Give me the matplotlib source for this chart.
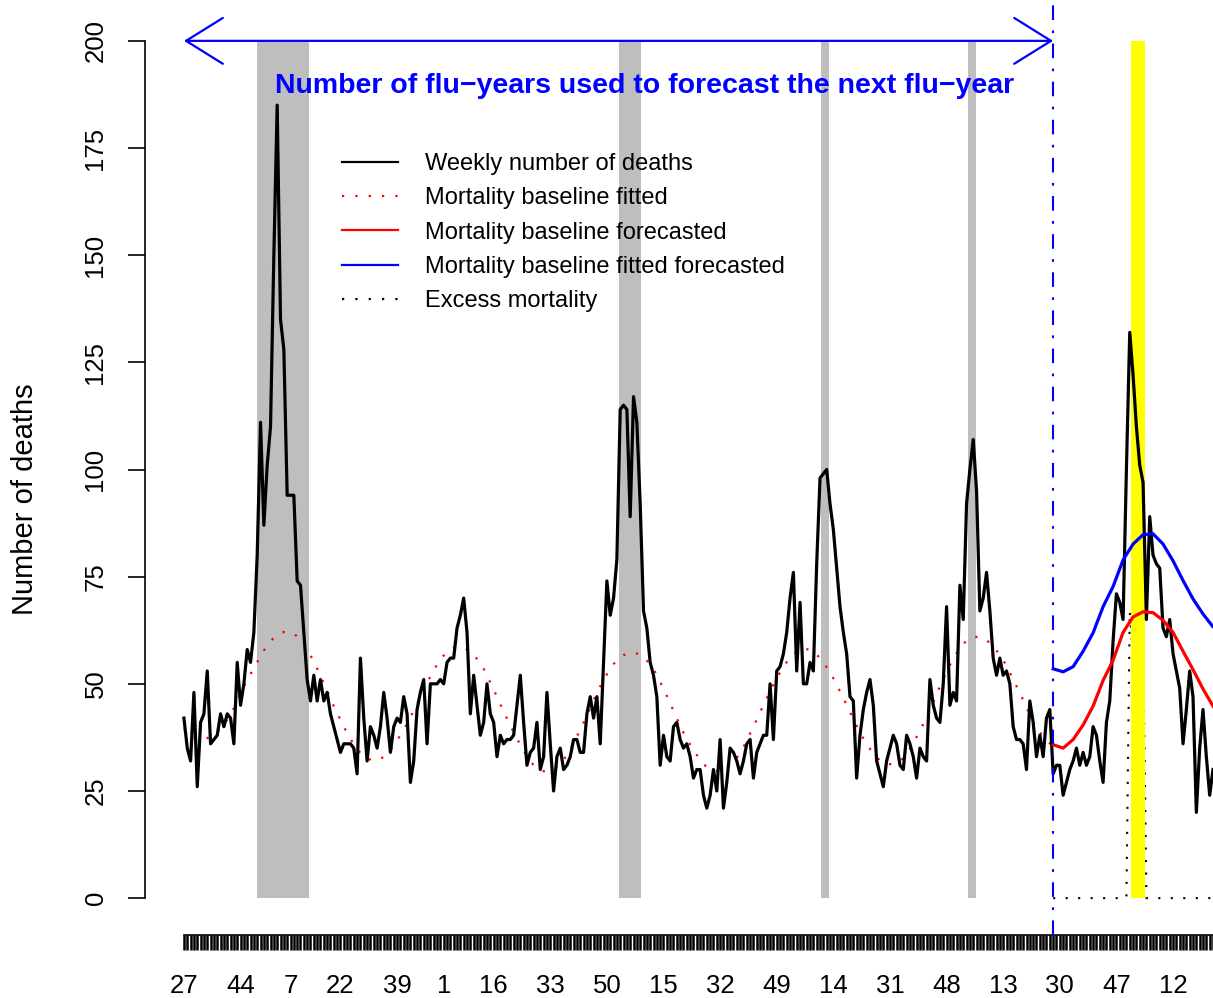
import matplotlib
matplotlib.use('Agg')
import matplotlib.pyplot as plt
from matplotlib.lines import Line2D
from matplotlib.patches import FancyArrowPatch, ArrowStyle

plt.rcParams['font.family'] = ['Liberation Sans', 'DejaVu Sans']

# Weekly number of deaths, one value per week starting at week 27
DEATHS = [
    42, 35, 32, 48, 26, 41, 43, 53, 36, 37, 38, 43, 40, 43, 42, 36, 55, 45, 50, 58,
    55, 62, 80, 111, 87, 101, 110, 150, 185, 135, 128, 94, 94, 94, 74, 73, 62, 51, 46,
    52, 46, 51, 46, 48, 43, 40, 37, 34, 36, 36, 36, 35, 29, 56, 42, 32, 40, 38,
    35, 40, 48, 42, 34, 40, 42, 41, 47, 43, 27, 32, 44, 48, 51, 36, 50, 50, 50, 51,
    50, 55, 56, 56, 63, 66, 70, 62, 43, 52, 45, 38, 41, 50, 43, 41, 33, 38, 36,
    37, 37, 38, 45, 52, 41, 31, 34, 35, 41, 30, 33, 48, 36, 25, 33, 35, 30, 31,
    33, 37, 37, 34, 34, 43, 47, 42, 47, 36, 55, 74, 66, 70, 79, 114, 115, 114, 89, 117,
    111, 92, 67, 63, 55, 52, 47, 31, 38, 33, 32, 40, 41, 37, 35, 36, 33, 28, 30,
    30, 24, 21, 24, 30, 25, 37, 21, 27, 35, 34, 32, 29, 32, 36, 37, 28, 34, 36,
    38, 38, 50, 37, 53, 54, 57, 62, 70, 76, 53, 69, 50, 50, 55, 53, 78, 98, 99,
    100, 92, 86, 77, 68, 62, 57, 47, 46, 28, 38, 44, 48, 51, 45, 32, 29, 26, 32, 35,
    38, 36, 31, 30, 38, 36, 33, 28, 35, 33, 32, 51, 45, 42, 41, 50, 68, 45, 48,
    46, 73, 65, 92, 100, 107, 95, 67, 70, 76, 67, 56, 52, 56, 52, 53, 50, 40, 37,
    37, 36, 30, 46, 41, 33, 38, 33, 42, 44, 29, 31, 31, 24, 27, 30, 32, 35, 31, 34,
    31, 33, 40, 38, 32, 27, 41, 46, 60, 71, 69, 65, 100, 132, 122, 110, 101, 97, 65,
    89, 80, 78, 77, 63, 61, 65, 57, 53, 49, 36, 44, 53, 47, 20, 35, 44, 33, 24, 30,
]

# Fitted mortality baseline, every third week over the fitting period
BASELINE_WEEKS = list(range(0, 262, 3))
BASELINE_FIT = [
    39.7, 37.6, 37.0, 38.0, 40.4, 44.3, 49.4, 53.7, 57.8, 60.8,
    62.1, 61.8, 59.3, 55.3, 50.1, 44.8, 40.0, 35.8, 32.9, 32.0,
    32.9, 35.5, 39.3, 43.7, 48.6, 53.3, 56.6, 58.5, 58.5, 56.9,
    53.5, 48.7, 43.5, 38.7, 34.3, 31.0, 29.6, 29.9, 32.2, 36.1,
    40.9, 46.2, 51.0, 54.6, 56.7, 57.4, 56.4, 53.5, 48.9, 43.7,
    38.6, 34.5, 31.2, 29.7, 29.6, 31.5, 35.2, 40.0, 45.0, 49.9,
    54.1, 57.0, 58.3, 57.7, 55.1, 51.3, 46.7, 41.7, 37.3, 33.6,
    31.4, 31.2, 32.6, 36.1, 40.6, 45.8, 51.1, 56.0, 59.4, 61.0,
    60.8, 58.9, 55.6, 51.1, 46.2, 41.1, 37.6, 35.4,
]

# Forecasted baselines for the next flu-year
FORECAST_WEEKS = list(range(261, 313, 3))
BASELINE_FORECAST = [35.8, 35.0, 37.0, 40.4, 44.8, 50.8, 55.5, 62.0, 65.6, 66.8,
                     66.6, 64.8, 62.0, 57.6, 53.3, 48.8, 44.8, 41.5]
BASELINE_FIT_FORECAST = [53.5, 52.8, 54.0, 57.6, 61.9, 68.0, 72.7, 78.9, 82.6, 84.8,
                         85.0, 82.6, 78.7, 74.1, 69.8, 66.3, 63.3, 61.5]

# Excess mortality over the forecast year (weeks 261..309)
EXCESS_START = 261
EXCESS = [0] * 23 + [67, 56, 44, 35, 63] + [0] * 21

# Influenza periods (start, end week) in past years and current year
FLU_PERIODS = [(21.9, 37.5), (130.7, 137.2), (191.2, 193.8), (235.5, 237.9)]
CURRENT_PERIOD = (284.5, 288.5)
FORECAST_START = 261

FIRST_WEEK = 27
WEEKS_PER_YEAR = 52
WEEK_LABELS = ['27', '44', '7', '22', '39', '1', '16', '33', '50', '15',
               '32', '49', '14', '31', '48', '13', '30', '47', '12']
Y_TICKS = [0, 25, 50, 75, 100, 125, 150, 175, 200]

W, H = 1213, 998
fig = plt.figure(figsize=(W / 100, H / 100), dpi=100)
ax = fig.add_axes([145 / W, (H - 935) / H, (W - 145) / W, (935 - 4) / H])
ax.set_xlim(-11.69, 308.36)
ax.set_ylim(-8.6, 208.6)
band = ((0 + 8.6) / 217.2, (200 + 8.6) / 217.2)

weeks = list(range(len(DEATHS)))

# shaded epidemic periods
for start, end in FLU_PERIODS:
    ax.axvspan(start, end, ymin=band[0], ymax=band[1], color='#bebebe', lw=0, zorder=1)

excess_weeks = list(range(EXCESS_START, EXCESS_START + len(EXCESS)))
ax.plot(excess_weeks, EXCESS, color='black', lw=1.5, ls=(0, (1, 5)), zorder=1.5)

ax.axvspan(*CURRENT_PERIOD, ymin=band[0], ymax=band[1], color='#ffff00', lw=0, zorder=2)

ax.plot(BASELINE_WEEKS, BASELINE_FIT, color='red', lw=1.6, ls=(0, (1, 5)), zorder=3)
ax.plot(weeks, DEATHS, color='black', lw=2.3, zorder=4)
ax.plot(FORECAST_WEEKS, BASELINE_FORECAST, color='red', lw=2.3, zorder=4)
ax.plot(FORECAST_WEEKS, BASELINE_FIT_FORECAST, color='blue', lw=2.3, zorder=4)

ax.axvline(FORECAST_START, color='blue', lw=1.5, ls=(0, (7, 5, 1.3, 5)), zorder=5)

# span of flu-years used for the forecast
arrow = FancyArrowPatch((0, 200), (FORECAST_START, 200),
                        arrowstyle=ArrowStyle('<->', head_length=26.5, head_width=16.5),
                        mutation_scale=1, color='blue', lw=1.6,
                        shrinkA=0, shrinkB=0, zorder=6)
ax.add_patch(arrow)
ax.text(138.4, 189.5, 'Number of flu\u2212years used to forecast the next flu\u2212year',
        color='blue', fontweight='bold', fontsize=20.5, ha='center', va='center', zorder=6)

# axes in base-graphics style
for side in ('top', 'right'):
    ax.spines[side].set_visible(False)
ax.spines['left'].set_bounds(0, 200)
ax.spines['bottom'].set_bounds(0, len(DEATHS) - 1)
ax.spines['left'].set_linewidth(1.2)
ax.spines['bottom'].set_linewidth(1.2)

ax.set_yticks(Y_TICKS)
ax.set_yticklabels([str(v) for v in Y_TICKS], rotation=90, va='center')
ax.tick_params(axis='y', length=12, width=1.2, pad=15, labelsize=18.5)

# one tick per week, labelled with the calendar week where a label fits
calendar = [(FIRST_WEEK - 1 + i) % WEEKS_PER_YEAR + 1 for i in weeks]
tick_text = [''] * len(weeks)
pos = 0
for lab in WEEK_LABELS:
    while calendar[pos] != int(lab):
        pos += 1
    tick_text[pos] = lab
ax.set_xticks(weeks)
ax.set_xticklabels(tick_text)
ax.tick_params(axis='x', length=11, width=1.8, pad=17, labelsize=18.5)

fig.text(25 / W, 1 - 499 / H, 'Number of deaths', rotation=90,
         ha='center', va='center', fontsize=21)

handles = [
    Line2D([], [], color='black', lw=1.6),
    Line2D([], [], color='red', lw=1.6, ls=(0, (1, 5))),
    Line2D([], [], color='red', lw=1.6),
    Line2D([], [], color='blue', lw=1.6),
    Line2D([], [], color='black', lw=1.6, ls=(0, (1, 5))),
]
labels = ['Weekly number of deaths', 'Mortality baseline fitted',
          'Mortality baseline forecasted', 'Mortality baseline fitted forecasted',
          'Excess mortality']
fig.legend(handles, labels, loc='upper left', bbox_to_anchor=(342 / W, 1 - 153 / H),
           frameon=False, fontsize=17, handlelength=2.37, handletextpad=1.14,
           labelspacing=0.52, borderpad=0, borderaxespad=0)

fig.savefig('out.png', dpi=100)
